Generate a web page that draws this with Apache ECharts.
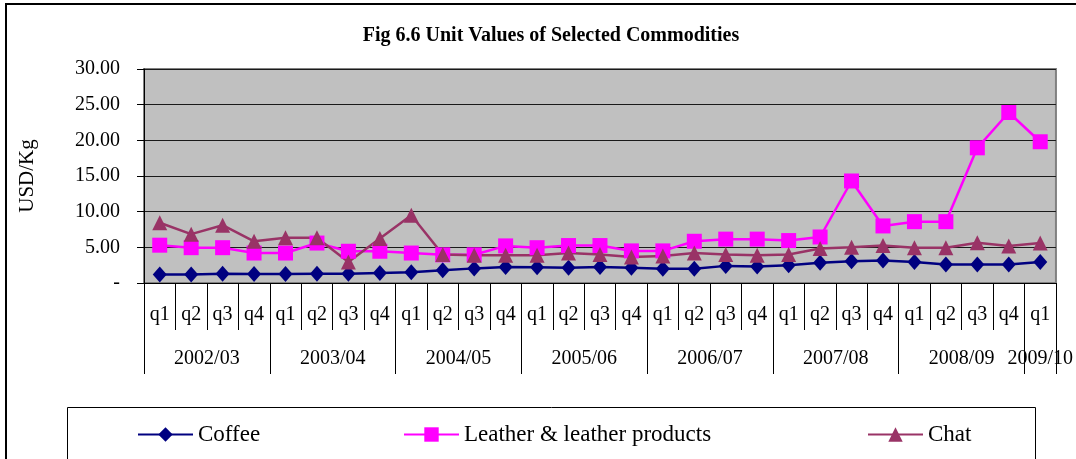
<!DOCTYPE html>
<html>
<head>
<meta charset="utf-8">
<script src="https://cdn.jsdelivr.net/npm/echarts@6/dist/echarts.min.js"></script>
<style>
html,body{margin:0;padding:0;background:#fff;}
#chart{width:1076px;height:459px;}
</style>
</head>
<body>
<div id="chart"></div>
<script>
// ---- data ----
var years = ['2002/03','2003/04','2004/05','2005/06','2006/07','2007/08','2008/09','2009/10'];
var quartersPerYear = [4,4,4,4,4,4,4,1];
var quarterNames = ['q1','q2','q3','q4'];
var coffee = [1.2,1.2,1.3,1.25,1.25,1.3,1.3,1.4,1.5,1.8,2.05,2.25,2.2,2.15,2.25,2.15,2.0,2.0,2.4,2.3,2.5,2.85,3.05,3.15,2.95,2.6,2.6,2.6,2.95];
var leather = [5.3,4.95,4.95,4.2,4.2,5.6,4.45,4.45,4.2,3.95,3.95,5.2,4.95,5.25,5.25,4.5,4.5,5.85,6.15,6.15,5.95,6.45,14.3,8.0,8.6,8.6,18.95,23.9,19.8];
var chat = [8.45,6.85,8.1,5.85,6.35,6.35,2.95,6.25,9.5,4.0,3.9,3.9,3.9,4.2,4.0,3.65,3.8,4.2,4.0,3.9,4.0,4.85,5.0,5.25,4.95,4.95,5.65,5.2,5.6];
var seriesNames = ['Coffee','Leather & leather products','Chat'];
var yTicks = [0,5,10,15,20,25,30];

// ---- derived axis tables ----
var quarters = [];
var nQ = 0;
years.forEach(function(y,k){ for(var j=0;j<quartersPerYear[k];j++){ quarters.push(quarterNames[j]); } nQ += quartersPerYear[k]; });
// half-quarter positions for the year axis (boundaryGap false)
var halfCats = [];
for (var i=0;i<=2*nQ;i++) halfCats.push('');
var yearLabelIdx = {}, yearTickIdx = {};
var start = 0;
years.forEach(function(y,k){
  var n = quartersPerYear[k];
  var c = 2*start + n;
  halfCats[c] = y; yearLabelIdx[c] = true;
  yearTickIdx[2*start] = true;
  start += n;
});
yearTickIdx[2*nQ] = true;

var FONT = "'Liberation Serif','Times New Roman',serif";
var chart = echarts.init(document.getElementById('chart'));
chart.setOption({
  animation:false,
  backgroundColor:'#fff',
  title:{
    text:'Fig 6.6 Unit Values of Selected Commodities',
    left:546, top:21, textAlign:'center',
    textStyle:{fontFamily:FONT,fontSize:20,fontWeight:'bold',color:'#000'}
  },
  graphic:[
    {type:'rect',shape:{x:6,y:4,width:1200,height:600},style:{fill:'none',stroke:'#000',lineWidth:2},silent:true,z:0},
    {type:'rect',shape:{x:67.5,y:407.5,width:968,height:100},style:{fill:'none',stroke:'#000',lineWidth:1},silent:true,z:0}
  ],
  grid:{
    left:144, right:19, top:69, bottom:176,
    show:true, backgroundColor:'#C0C0C0', borderColor:'#808080', borderWidth:2
  },
  legend:[
    {data:[seriesNames[0]], left:137, top:423},
    {data:[seriesNames[1]], left:403, top:423},
    {data:[seriesNames[2]], left:867, top:423}
  ].map(function(l){
    l.itemWidth=55; l.itemHeight=18; l.itemGap=5; l.padding=0;
    l.textStyle={fontFamily:FONT,fontSize:23,color:'#000'};
    return l;
  }),
  xAxis:[
    {
      type:'category', data:quarters, boundaryGap:true, position:'bottom',
      axisLine:{show:true,lineStyle:{color:'#000',width:1}},
      axisTick:{show:true,interval:0,length:47,lineStyle:{color:'#000',width:1}},
      axisLabel:{interval:0,margin:22,fontFamily:FONT,fontSize:20,color:'#000'},
      splitLine:{show:false}
    },
    {
      type:'category', data:halfCats, boundaryGap:false, position:'bottom',
      axisLine:{show:false},
      axisTick:{show:true,length:91,interval:function(idx){return !!yearTickIdx[idx];},lineStyle:{color:'#000',width:1}},
      axisLabel:{interval:function(idx){return !!yearLabelIdx[idx];},margin:66,fontFamily:FONT,fontSize:20,color:'#000',showMinLabel:true,showMaxLabel:true},
      splitLine:{show:false}
    }
  ],
  yAxis:{
    type:'value', min:yTicks[0], max:yTicks[yTicks.length-1], interval:yTicks[1]-yTicks[0],
    name:'USD/Kg', nameLocation:'middle', nameGap:106, nameRotate:90,
    nameTextStyle:{fontFamily:FONT,fontSize:21,color:'#000'},
    axisLine:{show:true,lineStyle:{color:'#000',width:1}},
    axisTick:{show:true,length:7,lineStyle:{color:'#000'}},
    axisLabel:{margin:24,fontFamily:FONT,fontSize:20,color:'#000',
      formatter:function(v){return v===0?'-':v.toFixed(2);}},
    splitLine:{show:true,lineStyle:{color:'#1a1a1a',width:1}}
  },
  series:[
    {name:seriesNames[0],type:'line',data:coffee,symbol:'diamond',symbolSize:[14,16],
      itemStyle:{color:'#000080'},lineStyle:{color:'#000080',width:2.5}},
    {name:seriesNames[1],type:'line',data:leather,symbol:'rect',symbolSize:15,
      itemStyle:{color:'#FF00FF'},lineStyle:{color:'#FF00FF',width:2.5}},
    {name:seriesNames[2],type:'line',data:chat,symbol:'triangle',symbolSize:[15,15],
      itemStyle:{color:'#993366'},lineStyle:{color:'#993366',width:2.5}}
  ]
});
</script>
</body>
</html>
